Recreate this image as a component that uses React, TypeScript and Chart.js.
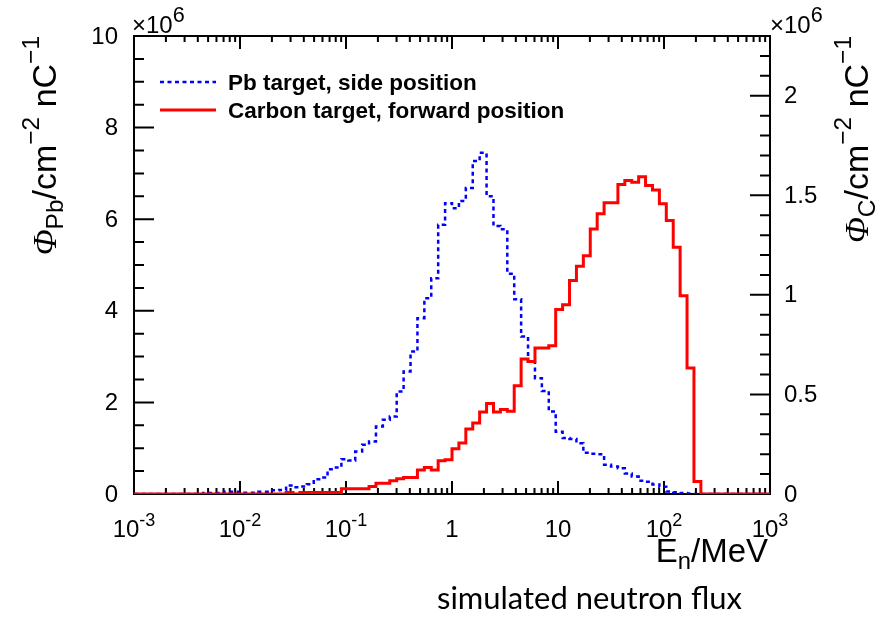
import React, { useEffect, useRef } from 'react';
import { Chart, registerables } from 'chart.js';

Chart.register(...registerables);

// ---- binning (log-uniform histogram, 92 bins from 1e-3 to 1e3 MeV) ----
const N_BINS = 92;
const E_MIN = 1e-3;
const E_MAX = 1e3;

// ---- bin contents, in units of 1e6 cm^-2 nC^-1 ----
const pbFlux = [
  0, 0, 0, 0, 0, 0, 0, 0, 0, 0,
  0.02, 0.02, 0.02, 0.05, 0.05, 0.03, 0.03, 0.03, 0.05, 0.05,
  0.08, 0.09, 0.186, 0.148, 0.164, 0.214, 0.323, 0.36, 0.541, 0.579,
  0.76, 0.731, 0.928, 1.074, 1.146, 1.474, 1.62, 1.692, 2.238, 2.675,
  3.11, 3.84, 4.275, 4.71, 5.88, 6.35, 6.24, 6.4, 6.68, 7.27,
  7.45, 6.5, 5.85, 5.78, 4.81, 4.25, 3.44, 2.89, 2.53, 2.25,
  1.8, 1.36, 1.22, 1.2, 1.11, 0.9, 0.88, 0.87, 0.64, 0.6,
  0.56, 0.45, 0.38, 0.29, 0.27, 0.21, 0.16, 0.055, 0.04, 0.02,
  0.01, 0, 0, 0, 0, 0, 0, 0, 0, 0,
  0, 0,
];

const carbonFlux = [
  0, 0, 0, 0, 0, 0, 0, 0, 0, 0,
  0, 0, 0, 0, 0, 0, 0, 0, 0, 0,
  0, 0, 0.008, 0, 0.008, 0.008, 0.008, 0.008, 0.008, 0.008,
  0.026, 0.026, 0.026, 0.026, 0.038, 0.054, 0.054, 0.066, 0.077, 0.083,
  0.083, 0.121, 0.133, 0.121, 0.167, 0.172, 0.227, 0.256, 0.326, 0.356,
  0.412, 0.454, 0.412, 0.424, 0.415, 0.544, 0.678, 0.666, 0.733, 0.733,
  0.745, 0.926, 0.951, 1.072, 1.144, 1.197, 1.331, 1.407, 1.462, 1.462,
  1.554, 1.574, 1.566, 1.593, 1.549, 1.527, 1.457, 1.373, 1.239, 0.996,
  0.633, 0.063, 0, 0, 0, 0, 0, 0, 0, 0,
  0, 0,
];

// ---- axes ----
const LEFT_MAX = 10;
const RIGHT_MAX = 2.3;
const leftTicks = [0, 2, 4, 6, 8, 10];
const leftTickLabels = ['0', '2', '4', '6', '8', '10'];
const rightTicks = [0, 0.5, 1, 1.5, 2];
const rightTickLabels = ['0', '0.5', '1', '1.5', '2'];
const xTicks = [1e-3, 1e-2, 1e-1, 1, 10, 100, 1000];
const xTickLabels = ['10^-3', '10^-2', '10^-1', '1', '10', '10^2', '10^3'];
const seriesLabels = ['Pb target, side position', 'Carbon target, forward position'];
const caption = 'simulated neutron flux';

const SANS = '"Liberation Sans", Arial, Helvetica, sans-serif';
const SERIF = '"Liberation Serif", "DejaVu Serif", serif';
const CAPTION_FONT = 'Lato, "Open Sans", sans-serif';

const binEdges = Array.from({ length: N_BINS + 1 }, (_, i) => E_MIN * Math.pow(E_MAX / E_MIN, i / N_BINS));

function toSteps(values: number[]) {
  const pts = values.map((v, i) => ({ x: binEdges[i], y: v }));
  pts.push({ x: binEdges[N_BINS], y: values[N_BINS - 1] });
  return pts;
}

type Seg = { t: string; kind?: 'sub' | 'sup'; italic?: boolean; serif?: boolean; scale?: number; rise?: number };

function segSize(seg: Seg, size: number) {
  return seg.kind ? size * (seg.scale ?? 0.72) : size;
}
function segFont(seg: Seg, size: number) {
  return `${seg.italic ? 'italic ' : ''}${segSize(seg, size)}px ${seg.serif ? SERIF : SANS}`;
}
function richWidth(ctx: CanvasRenderingContext2D, segs: Seg[], size: number) {
  let w = 0;
  for (const s of segs) {
    ctx.font = segFont(s, size);
    w += ctx.measureText(s.t).width;
  }
  return w;
}
function drawRich(ctx: CanvasRenderingContext2D, segs: Seg[], x: number, y: number, size: number, align: 'left' | 'right' | 'center') {
  const w = richWidth(ctx, segs, size);
  let cx = align === 'right' ? x - w : align === 'center' ? x - w / 2 : x;
  ctx.textAlign = 'left';
  ctx.textBaseline = 'alphabetic';
  for (const s of segs) {
    ctx.font = segFont(s, size);
    const dy = s.kind === 'sub' ? size * 0.22 : s.kind === 'sup' ? -size * (s.rise ?? 0.5) : 0;
    ctx.fillText(s.t, cx, y + dy);
    cx += ctx.measureText(s.t).width;
  }
}
function powerLabel(label: string): Seg[] {
  const [b, e] = label.split('^');
  return e ? [{ t: b }, { t: e, kind: 'sup', scale: 0.75, rise: 0.45 }] : [{ t: b }];
}

const rootStyle = {
  id: 'rootStyle',
  beforeDatasetsDraw(chart: any) {
    const { ctx, chartArea: a, scales } = chart;
    const x = scales.x;
    const y = scales.y;
    const y1 = scales.y1;
    ctx.save();
    ctx.strokeStyle = '#000';
    ctx.lineWidth = 2;
    ctx.strokeRect(a.left, a.top, a.right - a.left, a.bottom - a.top);
    ctx.beginPath();
    for (let k = -3; k <= 2; k++) {
      for (let m = 1; m <= 9; m++) {
        const v = m * Math.pow(10, k);
        const px = x.getPixelForValue(v);
        const len = m === 1 ? 13 : 6;
        ctx.moveTo(px, a.bottom);
        ctx.lineTo(px, a.bottom - len);
        ctx.moveTo(px, a.top);
        ctx.lineTo(px, a.top + len);
      }
    }
    for (let i = 0; i <= LEFT_MAX * 2; i++) {
      const v = i / 2;
      const py = y.getPixelForValue(v);
      const len = i % 4 === 0 ? 20 : 10;
      ctx.moveTo(a.left, py);
      ctx.lineTo(a.left + len, py);
    }
    for (let i = 0; i <= Math.floor(RIGHT_MAX * 10 + 1e-6); i++) {
      const v = i / 10;
      const py = y1.getPixelForValue(v);
      const len = i % 5 === 0 ? 20 : 10;
      ctx.moveTo(a.right, py);
      ctx.lineTo(a.right - len, py);
    }
    ctx.stroke();
    ctx.restore();
  },
  afterDraw(chart: any) {
    const { ctx, chartArea: a, scales } = chart;
    const x = scales.x;
    const y = scales.y;
    const y1 = scales.y1;
    ctx.save();
    ctx.fillStyle = '#000';

    // left tick labels
    ctx.font = `24px ${SANS}`;
    ctx.textBaseline = 'middle';
    ctx.textAlign = 'right';
    leftTicks.forEach((v, i) => ctx.fillText(leftTickLabels[i], a.left - 16, y.getPixelForValue(v) + 1));
    // right tick labels
    ctx.textAlign = 'left';
    rightTicks.forEach((v, i) => ctx.fillText(rightTickLabels[i], a.right + 14, y1.getPixelForValue(v) + 1));
    // x tick labels
    xTicks.forEach((v, i) => drawRich(ctx, powerLabel(xTickLabels[i]), x.getPixelForValue(v), a.bottom + 43, 24, 'center'));

    // exponent markers
    const exp: Seg[] = [{ t: '\u00d710' }, { t: '6', kind: 'sup', scale: 0.9, rise: 0.45 }];
    drawRich(ctx, exp, a.left - 2, a.top - 3, 24, 'left');
    drawRich(ctx, exp, a.right, a.top - 3, 24, 'left');

    // axis titles
    const leftTitle: Seg[] = [
      { t: '\u03a6', italic: true, serif: true },
      { t: 'Pb', kind: 'sub' },
      { t: '/cm' },
      { t: '\u22122', kind: 'sup' },
      { t: ' nC' },
      { t: '\u22121', kind: 'sup' },
    ];
    const rightTitle: Seg[] = [
      { t: '\u03a6', italic: true, serif: true },
      { t: 'C', kind: 'sub' },
      { t: '/cm' },
      { t: '\u22122', kind: 'sup' },
      { t: ' nC' },
      { t: '\u22121', kind: 'sup' },
    ];
    ctx.save();
    ctx.translate(56, a.top);
    ctx.rotate(-Math.PI / 2);
    drawRich(ctx, leftTitle, 0, 0, 34, 'right');
    ctx.restore();
    ctx.save();
    ctx.translate(868, a.top);
    ctx.rotate(-Math.PI / 2);
    drawRich(ctx, rightTitle, 0, 0, 34, 'right');
    ctx.restore();

    const xTitle: Seg[] = [{ t: 'E' }, { t: 'n', kind: 'sub' }, { t: '/MeV' }];
    drawRich(ctx, xTitle, a.right - 2, a.bottom + 68, 33, 'right');

    // legend
    const ds = chart.data.datasets;
    const legendY = [82, 110];
    [0, 1].forEach((i) => {
      const d = ds[i];
      ctx.save();
      ctx.strokeStyle = d.borderColor;
      ctx.lineWidth = d.borderWidth;
      ctx.setLineDash(d.borderDash || []);
      ctx.beginPath();
      ctx.moveTo(160, legendY[i]);
      ctx.lineTo(216, legendY[i]);
      ctx.stroke();
      ctx.restore();
      ctx.font = `bold 22.5px ${SANS}`;
      ctx.textAlign = 'left';
      ctx.textBaseline = 'alphabetic';
      ctx.fillText(d.label, 228, legendY[i] + 7.5);
    });

    // caption
    ctx.save();
    ctx.font = `31px ${CAPTION_FONT}`;
    const w = ctx.measureText(caption).width;
    const targetW = 305;
    ctx.translate(437, 609);
    ctx.scale(targetW / w, 1);
    ctx.textAlign = 'left';
    ctx.textBaseline = 'alphabetic';
    ctx.fillText(caption, 0, 0);
    ctx.restore();

    ctx.restore();
  },
};

export default function App() {
  const ref = useRef<HTMLCanvasElement | null>(null);
  useEffect(() => {
    document.body.style.margin = '0';
    const canvas = ref.current;
    if (!canvas) return;
    const chart = new Chart(canvas, {
      type: 'line',
      data: {
        datasets: [
          {
            label: seriesLabels[0],
            data: toSteps(pbFlux),
            yAxisID: 'y',
            borderColor: '#0000ff',
            borderWidth: 2.5,
            borderDash: [4, 3.5],
            borderCapStyle: 'butt',
            stepped: 'before',
            pointRadius: 0,
            fill: false,
            order: 1,
          },
          {
            label: seriesLabels[1],
            data: toSteps(carbonFlux),
            yAxisID: 'y1',
            borderColor: '#ff0000',
            borderWidth: 3,
            stepped: 'before',
            pointRadius: 0,
            fill: false,
            order: 0,
          },
        ],
      } as any,
      options: {
        responsive: false,
        animation: false,
        devicePixelRatio: 1,
        layout: { padding: { top: 36, left: 0, right: 0, bottom: 0 } },
        plugins: { legend: { display: false }, tooltip: { enabled: false } },
        events: [],
        scales: {
          x: {
            type: 'logarithmic',
            min: E_MIN,
            max: E_MAX,
            position: 'bottom',
            ticks: { display: false },
            grid: { display: false },
            border: { display: false },
            afterFit: (s: any) => { s.height = 124; },
          },
          y: {
            type: 'linear',
            position: 'left',
            min: 0,
            max: LEFT_MAX,
            ticks: { display: false },
            grid: { display: false },
            border: { display: false },
            afterFit: (s: any) => { s.width = 134; },
          },
          y1: {
            type: 'linear',
            position: 'right',
            min: 0,
            max: RIGHT_MAX,
            ticks: { display: false },
            grid: { display: false },
            border: { display: false },
            afterFit: (s: any) => { s.width = 120; },
          },
        },
      } as any,
      plugins: [rootStyle],
    });
    return () => chart.destroy();
  }, []);
  return (
    <div style={{ width: 890, height: 618 }}>
      <canvas ref={ref} width={890} height={618} style={{ display: 'block', width: 890, height: 618 }} />
    </div>
  );
}
